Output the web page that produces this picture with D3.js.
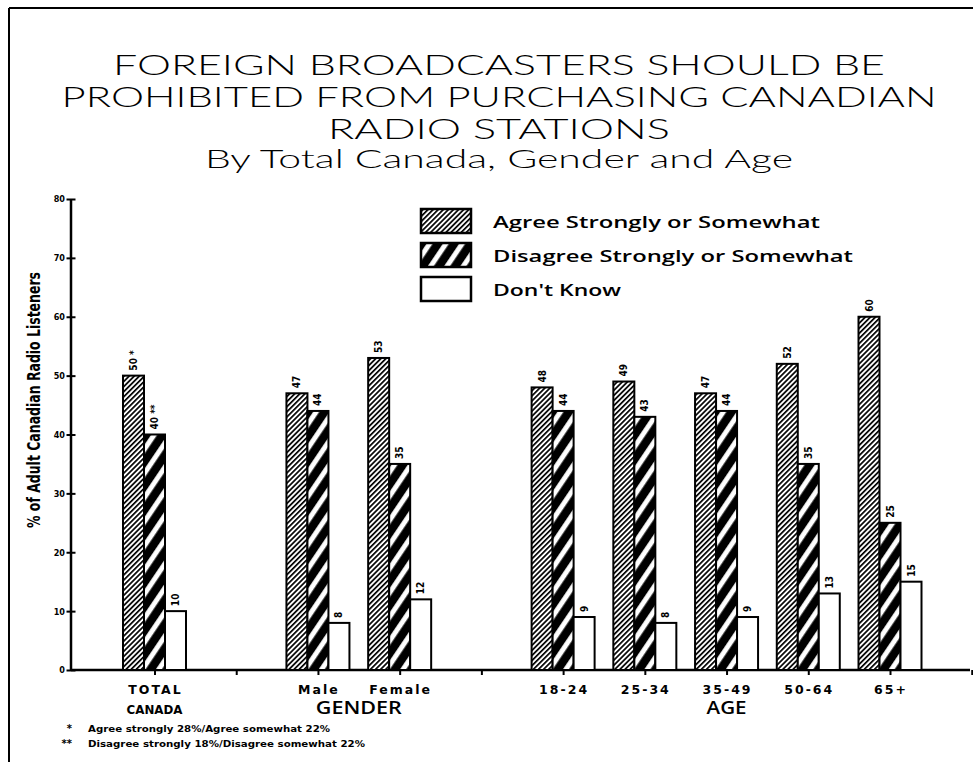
<!DOCTYPE html>
<html><head><meta charset="utf-8">
<script src="https://cdn.jsdelivr.net/npm/d3@7/dist/d3.min.js"></script>
<style>body{margin:0;background:#fff}svg{display:block}</style>
</head><body>
<svg id="c" width="973" height="762"></svg>
<script>
// ---- data ----
const titleLines = ["FOREIGN BROADCASTERS SHOULD BE", "PROHIBITED FROM PURCHASING CANADIAN", "RADIO STATIONS"];
const subtitle = "By Total Canada, Gender and Age";
const yAxisTitle = "% of Adult Canadian Radio Listeners";
const categories = ["TOTAL", "Male", "Female", "18-24", "25-34", "35-49", "50-64", "65+"];
const categoryGroup = [0, 1, 1, 2, 2, 2, 2, 2];
const groups = ["CANADA", "GENDER", "AGE"];
const seriesNames = ["Agree Strongly or Somewhat", "Disagree Strongly or Somewhat", "Don't Know"];
const agree = [50, 47, 53, 48, 49, 47, 52, 60];
const disagree = [40, 44, 35, 44, 43, 44, 35, 25];
const dontKnow = [10, 8, 12, 9, 8, 9, 13, 15];
const agreeNotes = ["*", "", "", "", "", "", "", ""];
const disagreeNotes = ["**", "", "", "", "", "", "", ""];
const yTicks = [0, 10, 20, 30, 40, 50, 60, 70, 80];
const footMarks = ["*", "**"];
const footTexts = ["Agree strongly 28%/Agree somewhat 22%", "Disagree strongly 18%/Disagree somewhat 22%"];

const svg = d3.select("#c");
const defs = svg.append("defs");

// patterns
const pA = defs.append("pattern").attr("id", "pAgree").attr("patternUnits", "userSpaceOnUse")
  .attr("width", 3.6).attr("height", 10).attr("patternTransform", "rotate(45)");
pA.append("rect").attr("width", 3.6).attr("height", 10).attr("fill", "#fff");
pA.append("rect").attr("width", 1.7).attr("height", 10).attr("fill", "#000");

const pD = defs.append("pattern").attr("id", "pDis").attr("patternUnits", "userSpaceOnUse")
  .attr("width", 13.5).attr("height", 20).attr("patternTransform", "rotate(34)");
pD.append("rect").attr("width", 13.5).attr("height", 20).attr("fill", "#000");
pD.append("rect").attr("x", 4).attr("width", 5).attr("height", 20).attr("fill", "#fff");

const fills = ["url(#pAgree)", "url(#pDis)", "#fff"];
const seriesValues = [agree, disagree, dontKnow];
const seriesNotes = [agreeNotes, disagreeNotes, null];

// border
svg.append("line").attr("x1", 9).attr("x2", 973).attr("y1", 8).attr("y2", 8).attr("stroke", "#000").attr("stroke-width", 2);
svg.append("line").attr("x1", 9).attr("x2", 9).attr("y1", 8).attr("y2", 762).attr("stroke", "#000").attr("stroke-width", 2);

// titles
const titleFont = "Lato, 'DejaVu Sans', sans-serif";
const titleY = [75, 107, 139];
const titleLen = [772, 875, 342];
titleLines.forEach((t, i) => {
  svg.append("text").attr("x", 499).attr("y", titleY[i]).attr("text-anchor", "middle")
    .attr("font-family", titleFont).attr("font-weight", 300).attr("font-size", 26.5)
    .attr("textLength", titleLen[i]).attr("lengthAdjust", "spacingAndGlyphs").text(t);
});
svg.append("text").attr("x", 499).attr("y", 168).attr("text-anchor", "middle")
  .attr("font-family", titleFont).attr("font-weight", 300).attr("font-size", 26)
  .attr("textLength", 588).attr("lengthAdjust", "spacingAndGlyphs").text(subtitle);

// scales
const nSlots = categories.length + groups.length - 1;
const x = d3.scaleLinear().domain([0, nSlots - 1]).range([154.5, 890]);
const slotOf = i => i + categoryGroup[i];
const x1 = d3.scaleBand().domain(d3.range(seriesNames.length)).range([-31.5, 31.5]);
const y = d3.scaleLinear().domain([0, 80]).range([670, 199]);

// y axis
const yAxis = d3.axisLeft(y).tickValues(yTicks).tickSize(0).tickPadding(6);
const gy = svg.append("g").attr("transform", "translate(71,0)").call(yAxis);
gy.select(".domain").attr("stroke-width", 2.5).attr("d", `M0,${y(80)}V${y(0)}`);
gy.selectAll(".tick").append("line").attr("x1", -4.5).attr("x2", 4.5).attr("stroke", "#000").attr("stroke-width", 2);
gy.selectAll(".tick text").attr("font-family", "'Liberation Sans Narrow', 'DejaVu Sans Condensed', sans-serif")
  .attr("font-weight", "bold").attr("font-size", 9).attr("fill", "#000");

svg.append("text").attr("transform", "translate(40,400) rotate(-90)").attr("text-anchor", "middle")
  .attr("font-family", "'Liberation Sans Narrow', 'DejaVu Sans Condensed', sans-serif")
  .attr("font-weight", "bold").attr("font-size", 18)
  .attr("textLength", 256).attr("lengthAdjust", "spacingAndGlyphs").text(yAxisTitle);

// x axis
const tickSlots = d3.range(nSlots + 1);
const xAxis = d3.axisBottom(x).tickValues(tickSlots).tickSize(5).tickFormat("");
const gx = svg.append("g").attr("transform", `translate(0,${y(0)})`).call(xAxis);
gx.select(".domain").attr("stroke-width", 2.5).attr("d", `M71,0H970`);
gx.selectAll(".tick line").attr("stroke-width", 2);

// bars
const bars = svg.append("g");
seriesValues.forEach((vals, s) => {
  bars.selectAll(null).data(vals).enter().append("rect")
    .attr("x", (d, i) => x(slotOf(i)) + x1(s))
    .attr("y", d => y(d))
    .attr("width", x1.bandwidth())
    .attr("height", d => y(0) - y(d))
    .attr("fill", fills[s]).attr("stroke", "#000").attr("stroke-width", 2);
  bars.selectAll(null).data(vals).enter().append("text")
    .attr("transform", (d, i) => `translate(${x(slotOf(i)) + x1(s) + x1.bandwidth() / 2 + 3.5},${y(d) - 5}) rotate(-90)`)
    .attr("font-family", "'Liberation Sans Narrow', 'DejaVu Sans Condensed', sans-serif")
    .attr("font-weight", "bold").attr("font-size", 10)
    .text((d, i) => d + (seriesNotes[s] && seriesNotes[s][i] ? " " + seriesNotes[s][i] : ""));
});

// category labels
const labFont = "'DejaVu Sans', sans-serif";
const legFont = "'Open Sans', 'DejaVu Sans', sans-serif";
svg.selectAll(null).data(categories).enter().append("text")
  .attr("x", (d, i) => x(slotOf(i)) + 1).attr("y", 694).attr("text-anchor", "middle")
  .attr("font-family", labFont).attr("font-weight", "bold").attr("font-size", 12.5)
  .attr("letter-spacing", 2).text(d => d);
const groupLen = [56, 86, 40];
groups.forEach((g, gi) => {
  const idx = d3.range(categories.length).filter(i => categoryGroup[i] === gi);
  const cx = d3.mean(idx, i => x(slotOf(i)));
  const first = gi === 0;
  svg.append("text").attr("x", cx).attr("y", first ? 714 : 714).attr("text-anchor", "middle")
    .attr("font-family", first ? labFont : legFont).attr("font-weight", first ? "bold" : 600)
    .attr("font-size", first ? 12.5 : 18)
    .attr("textLength", groupLen[gi]).attr("lengthAdjust", "spacingAndGlyphs").text(g);
});

// legend
const leg = svg.append("g");
const legLen = [327, 360, 128];
seriesNames.forEach((n, s) => {
  const yy = 209 + s * 34;
  leg.append("rect").attr("x", 421).attr("y", yy).attr("width", 50).attr("height", 24)
    .attr("fill", fills[s]).attr("stroke", "#000").attr("stroke-width", 2.5);
  leg.append("text").attr("x", 493).attr("y", yy + 19)
    .attr("font-family", legFont).attr("font-weight", 600).attr("font-size", 16)
    .attr("textLength", legLen[s]).attr("lengthAdjust", "spacingAndGlyphs").text(n);
});

// footnotes
const footLen = [242, 277];
footTexts.forEach((t, i) => {
  const yy = 732 + i * 15;
  svg.append("text").attr("x", 72).attr("y", yy).attr("text-anchor", "end")
    .attr("font-family", labFont).attr("font-weight", "bold").attr("font-size", 10).text(footMarks[i]);
  svg.append("text").attr("x", 88).attr("y", yy)
    .attr("font-family", labFont).attr("font-weight", "bold").attr("font-size", 9.5)
    .attr("textLength", footLen[i]).attr("lengthAdjust", "spacingAndGlyphs").text(t);
});
</script>
</body></html>
